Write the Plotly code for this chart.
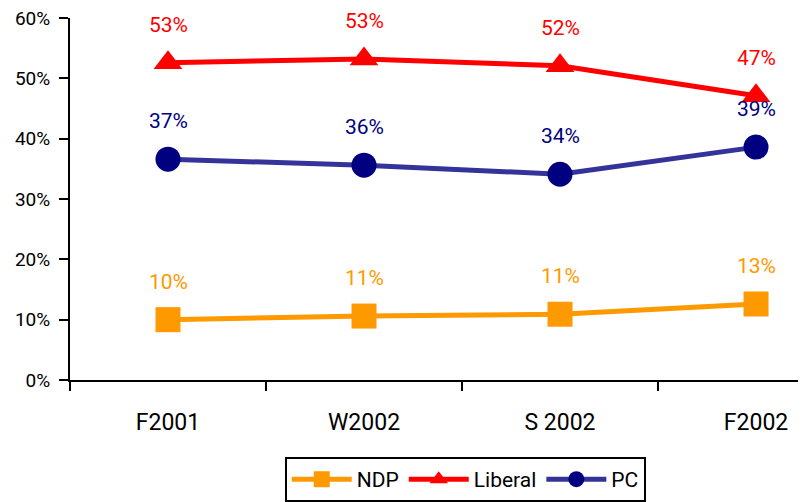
import plotly.graph_objects as go

categories = ["F2001", "W2002", "S 2002", "F2002"]
ndp = [10.0, 10.6, 10.9, 12.6]
liberal = [52.6, 53.2, 52.1, 47.1]
pc = [36.6, 35.6, 34.1, 38.6]
y_ticks = [0, 10, 20, 30, 40, 50, 60]

FONT = "Roboto, Liberation Sans, sans-serif"

series = [
    ("NDP", ndp, "#FF9900", "#FF9900", "#FF9900", "square"),
    ("Liberal", liberal, "#FF0000", "#FF0000", "#FF0000", "triangle-up"),
    ("PC", pc, "#333399", "#000080", "#000080", "circle"),
]

fig = go.Figure()
for name, vals, lcol, mcol, tcol, sym in series:
    fig.add_trace(go.Scatter(
        x=categories, y=vals, name=name, mode="lines+markers",
        line=dict(color=lcol, width=5),
        marker=dict(symbol=sym, size=25, color=mcol, line=dict(width=0)),
        cliponaxis=False,
    ))
    for c, v in zip(categories, vals):
        fig.add_annotation(x=c, y=v, text=f"{v:.0f}%", showarrow=False,
                           yshift=38, font=dict(color=tcol, size=21, family=FONT))

# The page body adds an 8px offset; the figure is sized to fill the rest.
fig.update_layout(
    width=798, height=494,
    margin=dict(l=62, r=0, t=10, b=122),
    paper_bgcolor="white", plot_bgcolor="white",
    font=dict(family=FONT, size=21, color="#000000"),
    showlegend=True,
    legend=dict(orientation="h", x=0.537, xanchor="center", y=-0.213, yanchor="top",
                bordercolor="#000000", borderwidth=2, font=dict(size=21),
                itemwidth=60, tracegroupgap=0),
    xaxis=dict(type="category", range=[-0.5, 3.255], showgrid=False, automargin=False,
               showline=True, linecolor="#000000", linewidth=2,
               ticks="outside", tickson="boundaries", ticklen=9, tickwidth=2,
               tickcolor="#000000", zeroline=False, ticklabelstandoff=20,
               tickfont=dict(size=23)),
    yaxis=dict(range=[0, 60], tickvals=y_ticks, ticktext=[f"{t}%" for t in y_ticks],
               automargin=False, ticklabeloverflow="allow", ticklabelstandoff=5,
               tickfont=dict(size=19),
               showgrid=False, showline=True, linecolor="#000000", linewidth=2,
               ticks="outside", ticklen=9, tickwidth=2, tickcolor="#000000",
               zeroline=False),
)

fig.write_html("out.html")
